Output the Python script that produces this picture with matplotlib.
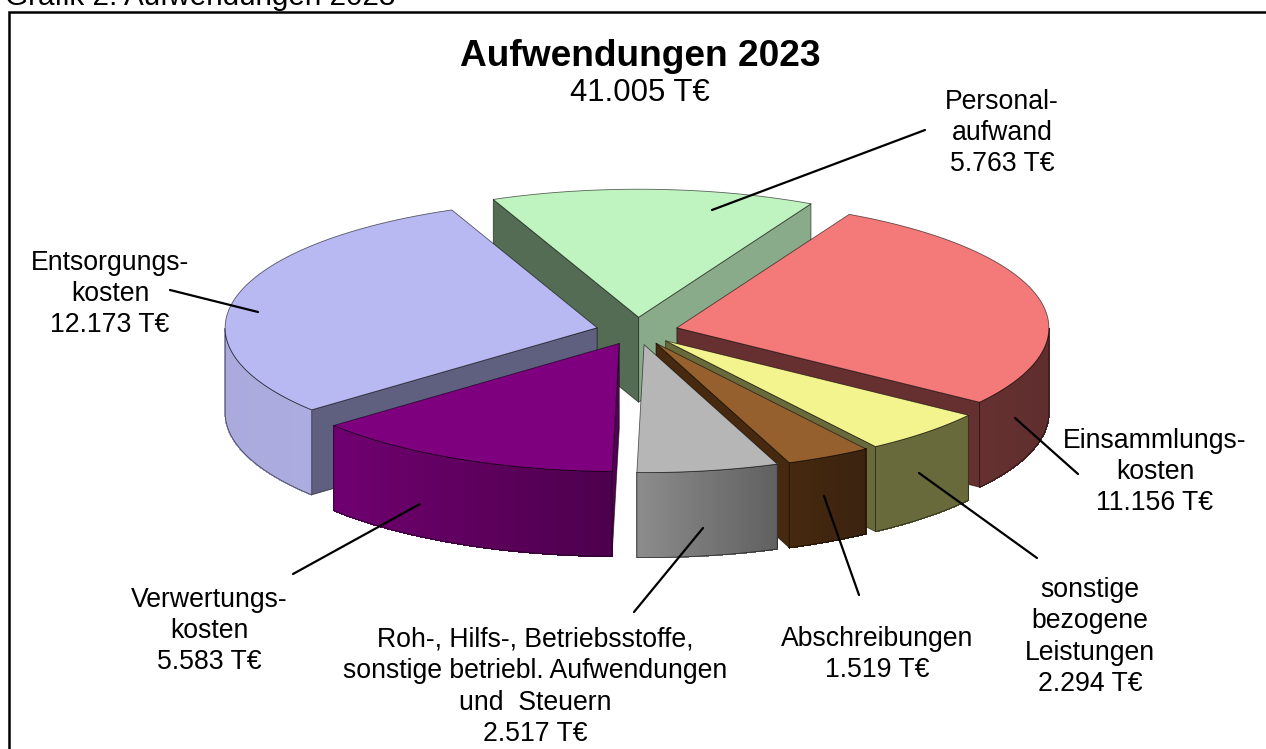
import numpy as np
import matplotlib
matplotlib.use('Agg')
import matplotlib.pyplot as plt
from matplotlib.patches import Polygon

plt.rcParams['font.family'] = ['Liberation Sans', 'DejaVu Sans']

# Werte in T€, im Uhrzeigersinn ab Personalaufwand
names = ['Personal-\naufwand', 'Einsammlungs-\nkosten', 'sonstige\nbezogene\nLeistungen',
         'Abschreibungen', 'Roh-, Hilfs-, Betriebsstoffe,\nsonstige betriebl. Aufwendungen\nund  Steuern',
         'Verwertungs-\nkosten', 'Entsorgungs-\nkosten']
values = [5763, 11156, 2294, 1519, 2517, 5583, 12173]
total = 41005

top_cols = ['#BFF3BF', '#F47A7A', '#F4F48E', '#95602D', '#B6B6B6', '#7F007F', '#B8B8F2']
wall_left = ['#89AB89', '#663030', '#686A3B', '#46290F', '#8C8C8C', '#700070', '#AAAADD']
wall_right = ['#89AB89', '#5F2E2E', '#686A3B', '#3B2310', '#606060', '#4C004C', '#ACACE0']
cut_start = ['#536C53', '#663030', '#686A3B', '#46290F', '#606060', '#520052', '#5F5F7F']
cut_end = ['#89AB89', '#663030', '#686A3B', '#46290F', '#8C8C8C', '#520052', '#5F5F7F']

label_pos = [(1002, 133), (1155, 472), (1090, 637), (877, 654.5), (535, 687), (209, 631), (110, 294)]
leaders = [((712, 210), (925, 130)), ((1015, 418), (1078, 474)), ((919, 473), (1037, 558)),
           ((824, 496), (859, 595)), ((703, 528), (634, 612)), ((420, 504), (293, 574)),
           ((258, 312), (170, 290))]

start = -23.0
cx, cy = 637, 331
explode = 41
tilt = 0.336
rx, ry = 372, 128
depth = 85


def fmt(v):
    return f'{v:,}'.replace(',', '.') + ' T€'


def rim(apex, th):
    th = np.radians(th)
    return apex[0] + rx * np.sin(th), apex[1] - ry * np.cos(th)


def mix(c1, c2, t):
    a = np.array(matplotlib.colors.to_rgb(c1))
    b = np.array(matplotlib.colors.to_rgb(c2))
    return tuple(a + (b - a) * t)


def draw_slice(i, a0, a1):
    m = np.radians((a0 + a1) / 2)
    apex = (cx + explode * np.sin(m), cy - explode * tilt * np.cos(m))
    angles = np.linspace(a0, a1, 120)
    arc = [rim(apex, a) for a in angles]
    line = dict(edgecolor='#00000099', linewidth=0.6, joinstyle='round')

    # Schnittflächen, nur die zum Betrachter zeigenden
    faces = []
    if np.sin(np.radians(a0)) < 0:
        faces.append((a0, cut_start[i]))
    if np.sin(np.radians(a1)) > 0:
        faces.append((a1, cut_end[i]))
    for a, col in faces:
        p = rim(apex, a)
        ax.add_patch(Polygon([apex, p, (p[0], p[1] + depth), (apex[0], apex[1] + depth)],
                             facecolor=col, **line))

    # Außenwand nur auf der vorderen Hälfte
    front = [a for a in angles if np.cos(np.radians(a)) <= 0.0]
    if len(front) > 1:
        pts = [rim(apex, a) for a in front]
        xs = [p[0] for p in pts]
        lo, hi = min(xs), max(xs)
        for p, q in zip(pts[:-1], pts[1:]):
            col = mix(wall_left[i], wall_right[i], ((p[0] + q[0]) / 2 - lo) / (hi - lo))
            ax.add_patch(Polygon([p, q, (q[0], q[1] + depth), (p[0], p[1] + depth)],
                                 facecolor=col, edgecolor=col, linewidth=0.5, antialiased=False))
        outline = pts + [(p[0], p[1] + depth) for p in pts[::-1]]
        ax.add_patch(Polygon(outline, facecolor='none', **line))

    ax.add_patch(Polygon([apex] + arc, facecolor=top_cols[i], **line))


fig = plt.figure(figsize=(12.66, 7.49), dpi=100)
ax = fig.add_axes([0, 0, 1, 1])
ax.set_xlim(0, 1266)
ax.set_ylim(749, 0)
ax.axis('off')

# Rahmen, rechts und unten abgeschnitten
ax.plot([8.5, 8.5, 1266], [749, 11.5, 11.5], color='black', lw=1.8, solid_joinstyle='miter')

edges = start + np.concatenate([[0], np.cumsum(values)]) / sum(values) * 360
order = sorted(range(len(values)), key=lambda k: -np.cos(np.radians((edges[k] + edges[k + 1]) / 2)))
for i in order:
    draw_slice(i, edges[i], edges[i + 1])

for (p, q) in leaders:
    ax.plot([p[0], q[0]], [p[1], q[1]], color='black', lw=1.6, solid_capstyle='round')

for name, v, (x, y) in zip(names, values, label_pos):
    ax.text(x, y, name + '\n' + fmt(v), ha='center', va='center', fontsize=19.2, linespacing=1.27)

ax.text(640, 56, 'Aufwendungen 2023', ha='center', va='center', fontsize=26.7, fontweight='bold')
ax.text(640, 93, fmt(total), ha='center', va='center', fontsize=22.4)
ax.text(5, 5, 'Grafik 2: Aufwendungen 2023', ha='left', va='baseline', fontsize=21.3, clip_on=True)

fig.savefig('out.png', dpi=100)
